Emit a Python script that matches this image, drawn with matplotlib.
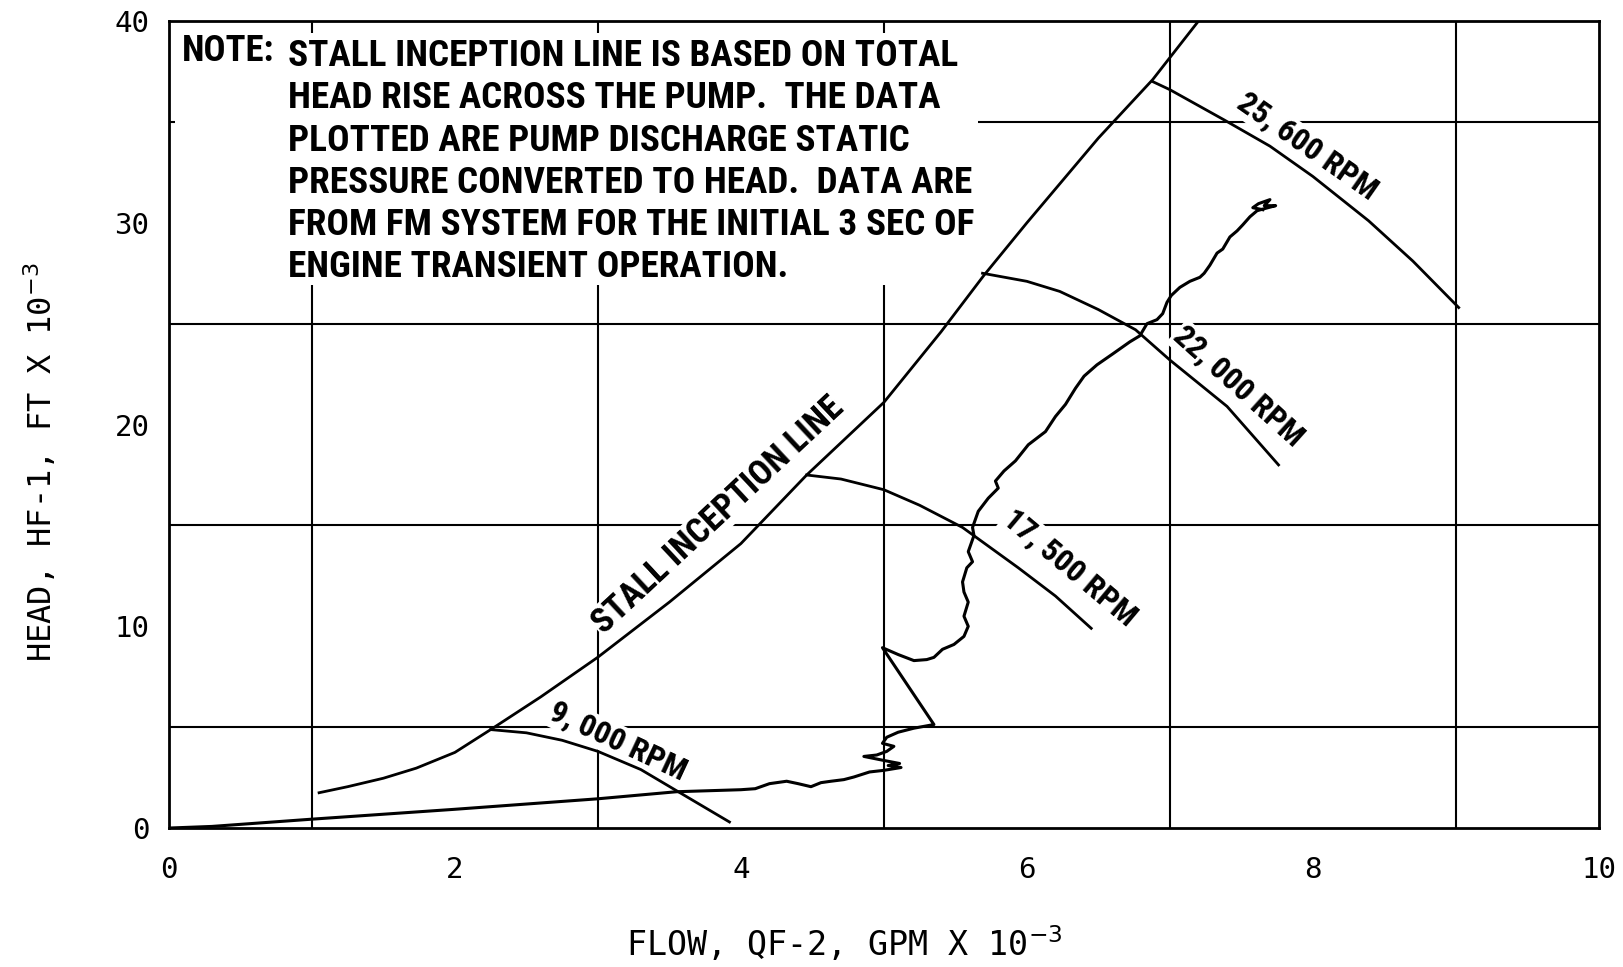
import matplotlib
matplotlib.use("Agg")
import matplotlib.pyplot as plt
from matplotlib import font_manager
from matplotlib.patches import Rectangle

# flow (GPM x 1e-3) / head (FT x 1e-3)
STALL_X = [1.05, 1.25, 1.5, 1.73, 2.0, 2.25, 2.6, 3.0, 3.5, 4.0, 4.46, 5.0, 5.4, 5.7, 6.0, 6.5, 6.88, 7.2]
STALL_Y = [1.75, 2.05, 2.47, 2.97, 3.75, 4.88, 6.5, 8.47, 11.2, 14.1, 17.5, 21.1, 24.6, 27.4, 30.0, 34.2, 37.1, 40.0]

RPM_CURVES = {
    "9, 000 RPM": ([2.25, 2.5, 2.75, 3.0, 3.3, 3.55, 3.92],
                   [4.88, 4.72, 4.35, 3.8, 2.9, 1.85, 0.3]),
    "17, 500 RPM": ([4.46, 4.7, 5.0, 5.25, 5.55, 5.94, 6.2, 6.45],
                    [17.5, 17.3, 16.77, 16.0, 14.9, 12.9, 11.5, 9.9]),
    "22, 000 RPM": ([5.69, 6.0, 6.23, 6.5, 6.76, 7.0, 7.4, 7.76],
                    [27.5, 27.1, 26.6, 25.7, 24.7, 23.2, 20.9, 18.0]),
    "25, 600 RPM": ([6.88, 7.0, 7.38, 7.7, 8.0, 8.39, 8.7, 9.02],
                    [37.0, 36.6, 35.1, 33.8, 32.3, 30.1, 28.1, 25.8]),
}

# label position (x, y) and screen angle for each curve label
RPM_LABELS = {
    "9, 000 RPM": (3.14, 4.3, -25),
    "17, 500 RPM": (6.3, 12.9, -40),
    "22, 000 RPM": (7.48, 21.9, -42),
    "25, 600 RPM": (7.96, 33.8, -35),
}

TRACE_X = [0.0, 0.3, 1.0, 2.0, 3.0, 3.55, 4.0, 4.1, 4.2, 4.32, 4.4, 4.49, 4.56, 4.63, 4.72, 4.79,
           4.90, 5.0, 5.12, 5.03, 5.11, 5.0, 4.86, 4.95, 5.02, 5.07, 4.99, 5.02, 5.1, 5.21, 5.35,
           4.99, 5.1, 5.21, 5.3, 5.35, 5.41, 5.49, 5.56, 5.59, 5.56, 5.59, 5.56, 5.55, 5.58, 5.62,
           5.59, 5.63, 5.62, 5.66, 5.73, 5.80, 5.78, 5.84, 5.92, 6.01, 6.13, 6.2, 6.27, 6.34, 6.40,
           6.49, 6.60, 6.72, 6.79, 6.84, 6.91, 6.95, 6.98, 7.01, 7.07, 7.14, 7.21, 7.24, 7.28, 7.33,
           7.37, 7.42, 7.47, 7.51, 7.56, 7.61, 7.66, 7.74, 7.66, 7.70, 7.62, 7.58, 7.65]
TRACE_Y = [0.0, 0.08, 0.44, 0.93, 1.45, 1.8, 1.9, 1.95, 2.2, 2.32, 2.2, 2.05, 2.25, 2.32, 2.4, 2.53,
           2.78, 2.86, 3.0, 3.1, 3.2, 3.35, 3.55, 3.62, 3.8, 4.05, 4.2, 4.5, 4.75, 4.95, 5.13,
           8.94, 8.6, 8.3, 8.35, 8.46, 8.86, 9.1, 9.5, 10.0, 10.5, 11.2, 11.7, 12.2, 12.9, 13.2,
           13.7, 14.5, 14.9, 15.7, 16.35, 16.85, 17.2, 17.7, 18.2, 19.0, 19.65, 20.4, 21.0, 21.8, 22.4,
           22.96, 23.5, 24.1, 24.4, 25.0, 25.2, 25.5, 26.06, 26.4, 26.8, 27.1, 27.3, 27.5, 27.9, 28.5,
           28.7, 29.3, 29.6, 29.9, 30.3, 30.6, 30.7, 30.85, 30.85, 31.15, 30.95, 30.75, 30.65]

NOTE_HEAD = "NOTE:"
NOTE_LINES = [
    "STALL INCEPTION LINE IS BASED ON TOTAL",
    "HEAD RISE ACROSS THE PUMP.  THE DATA",
    "PLOTTED ARE PUMP DISCHARGE STATIC",
    "PRESSURE CONVERTED TO HEAD.  DATA ARE",
    "FROM FM SYSTEM FOR THE INITIAL 3 SEC OF",
    "ENGINE TRANSIENT OPERATION.",
]

X_TICKS = [0, 2, 4, 6, 8, 10]
Y_TICKS = [0, 10, 20, 30, 40]
X_LABEL = "FLOW, QF-2, GPM X 10$^{-3}$"
Y_LABEL = "HEAD, HF-1, FT X 10$^{-3}$"


def pick_family(candidates):
    """Take the first installed family from the list."""
    installed = {f.name for f in font_manager.fontManager.ttflist}
    for name in candidates:
        if name in installed:
            return name
    return "DejaVu Sans"


def main():
    narrow = pick_family(["Liberation Sans Narrow", "Roboto Condensed", "Open Sans Condensed",
                          "Liberation Sans"])
    mono = "DejaVu Sans Mono"

    fig = plt.figure(figsize=(16.23, 9.67), dpi=100)
    ax = fig.add_axes([0.1041, 0.1437, 0.881, 0.8345])

    ax.set_xlim(0, 10)
    ax.set_ylim(0, 40)
    ax.set_xticks(X_TICKS)
    ax.set_yticks(Y_TICKS)
    ax.set_xticks(range(0, 11), minor=True)
    ax.set_yticks(range(0, 41, 5), minor=True)
    ax.grid(which="minor", color="black", linewidth=1.5, zorder=0.5)
    ax.set_axisbelow(True)
    ax.tick_params(which="both", length=0)
    ax.tick_params(axis="x", pad=20)
    ax.tick_params(axis="y", pad=14)
    for lab in ax.get_xticklabels() + ax.get_yticklabels():
        lab.set_fontfamily(mono)
        lab.set_fontsize(21)
    for spine in ax.spines.values():
        spine.set_linewidth(2.0)

    ax.set_xlabel(X_LABEL, fontfamily=mono, fontsize=24, labelpad=28)
    ax.set_ylabel(Y_LABEL, fontfamily=mono, fontsize=23, labelpad=40)
    ax.xaxis.label.set_x(0.472)
    ax.yaxis.label.set_y(0.453)

    # white area behind the note clears the grid
    ax.add_patch(Rectangle((0.04, 26.9), 5.62, 12.5, facecolor="white", edgecolor="none", zorder=1))
    ax.text(0.09, 38.5, NOTE_HEAD, fontfamily=narrow, fontsize=26.5, fontweight="bold",
            va="center", ha="left", zorder=4)
    ax.text(0.83, 38.5 + 0.65, "\n".join(NOTE_LINES), fontfamily=narrow, fontsize=26.8,
            fontweight="bold", va="top", ha="left", linespacing=1.22, zorder=4)

    ax.plot(STALL_X, STALL_Y, color="black", linewidth=2.0, zorder=3)
    ax.text(3.84, 15.5, "STALL INCEPTION LINE", fontfamily=narrow, fontsize=25, fontweight="bold",
            rotation=43, ha="center", va="center", zorder=2,
            bbox=dict(facecolor="white", edgecolor="none", pad=1))

    for name, (xs, ys) in RPM_CURVES.items():
        ax.plot(xs, ys, color="black", linewidth=2.0, zorder=3)
        lx, ly, ang = RPM_LABELS[name]
        ax.text(lx, ly, name, fontfamily=narrow, fontsize=23, fontweight="bold",
                rotation=ang, ha="center", va="center", zorder=2,
                bbox=dict(facecolor="white", edgecolor="none", pad=1))

    ax.plot(TRACE_X, TRACE_Y, color="black", linewidth=2.2, zorder=3)

    fig.savefig("out.png", dpi=100)
    plt.close(fig)


if __name__ == "__main__":
    main()
